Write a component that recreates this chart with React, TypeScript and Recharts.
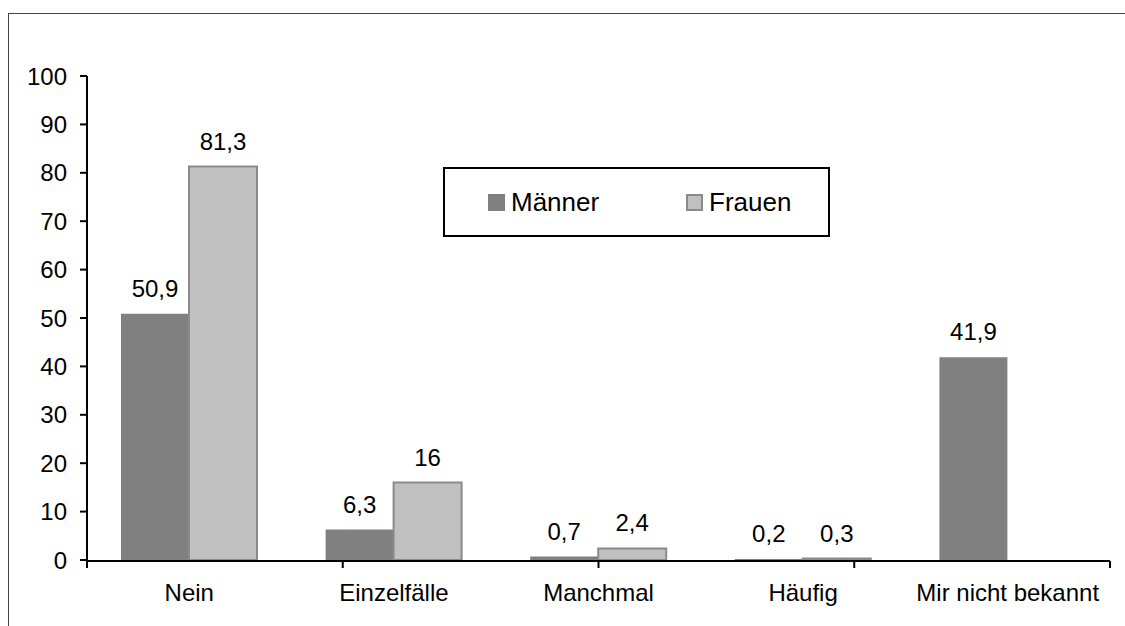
import React from 'react';
import { BarChart, Bar, XAxis, YAxis, LabelList } from 'recharts';

const categories = ['Nein', 'Einzelfälle', 'Manchmal', 'Häufig', 'Mir nicht bekannt'];
const maenner = [50.9, 6.3, 0.7, 0.2, 41.9];
const frauen: (number | null)[] = [81.3, 16, 2.4, 0.3, null];
const yTicks = [0, 10, 20, 30, 40, 50, 60, 70, 80, 90, 100];
const seriesNames = ['Männer', 'Frauen'];
const seriesFill = ['#808080', '#C0C0C0'];
const seriesStroke = ['none', '#8a8a8a'];

const data = categories.map((c, i) => ({ name: c, m: maenner[i], f: frauen[i] }));
const boundaryTicks = categories.map((_, i) => i).concat([categories.length]);

const FONT = '"Liberation Sans", Arial, sans-serif';
const fmt = (v: any) => (v === null || v === undefined ? '' : String(v).replace('.', ','));
const EmptyTick = () => <g />;

export default function App() {
  return (
    <div style={{ position: 'absolute', left: 0, top: 0, width: 1125, height: 626, overflow: 'hidden', background: '#fff', fontFamily: FONT }}>
      <div style={{ position: 'absolute', left: 8, top: 13, width: 1300, height: 800, border: '1px solid #444' }} />
      <div style={{ position: 'absolute', left: 0, top: 0 }}>
        <BarChart width={1125} height={626} data={data} margin={{ top: 76, right: 15, bottom: 64, left: 27 }} barCategoryGap={34} barGap={0}>
          <XAxis xAxisId="num" type="number" domain={[0, categories.length]} ticks={boundaryTicks} interval={0} height={1} tick={EmptyTick} tickSize={7} axisLine={{ stroke: '#000', strokeWidth: 2 }} tickLine={{ stroke: '#000', strokeWidth: 2 }} allowDataOverflow />
          <XAxis xAxisId="cat" dataKey="name" height={1} axisLine={false} tickLine={false} tickSize={0} tickMargin={24} interval={0} tick={{ fill: '#000', fontSize: 24, fontFamily: FONT }} />
          <YAxis width={60} domain={[0, 100]} ticks={yTicks} interval={0} tickSize={7} tickMargin={13} axisLine={{ stroke: '#000', strokeWidth: 2 }} tickLine={{ stroke: '#000', strokeWidth: 2 }} tick={{ fill: '#000', fontSize: 24, fontFamily: FONT }} />
          <Bar xAxisId="cat" dataKey="m" name={seriesNames[0]} fill={seriesFill[0]} isAnimationActive={false}>
            <LabelList dataKey="m" position="top" offset={17} formatter={fmt} style={{ fill: '#000', fontSize: 24, fontFamily: FONT }} />
          </Bar>
          <Bar xAxisId="cat" dataKey="f" name={seriesNames[1]} fill={seriesFill[1]} stroke={seriesStroke[1]} strokeWidth={2} isAnimationActive={false}>
            <LabelList dataKey="f" position="top" offset={17} formatter={fmt} style={{ fill: '#000', fontSize: 24, fontFamily: FONT }} />
          </Bar>
        </BarChart>
      </div>
      <div style={{ position: 'absolute', left: 443, top: 167, width: 383, height: 66, border: '2px solid #000', background: '#fff' }}>
        {seriesNames.map((n, i) => (
          <div key={n} style={{ position: 'absolute', left: i === 0 ? 43 : 241, top: 17, display: 'flex', alignItems: 'center', fontSize: 26, color: '#000', lineHeight: '32px' }}>
            <span style={{ display: 'inline-block', width: i === 0 ? 17 : 13, height: i === 0 ? 17 : 13, background: seriesFill[i], border: i === 0 ? 'none' : `2px solid ${seriesStroke[i]}`, marginRight: 6 }} />
            <span>{n}</span>
          </div>
        ))}
      </div>
    </div>
  );
}
